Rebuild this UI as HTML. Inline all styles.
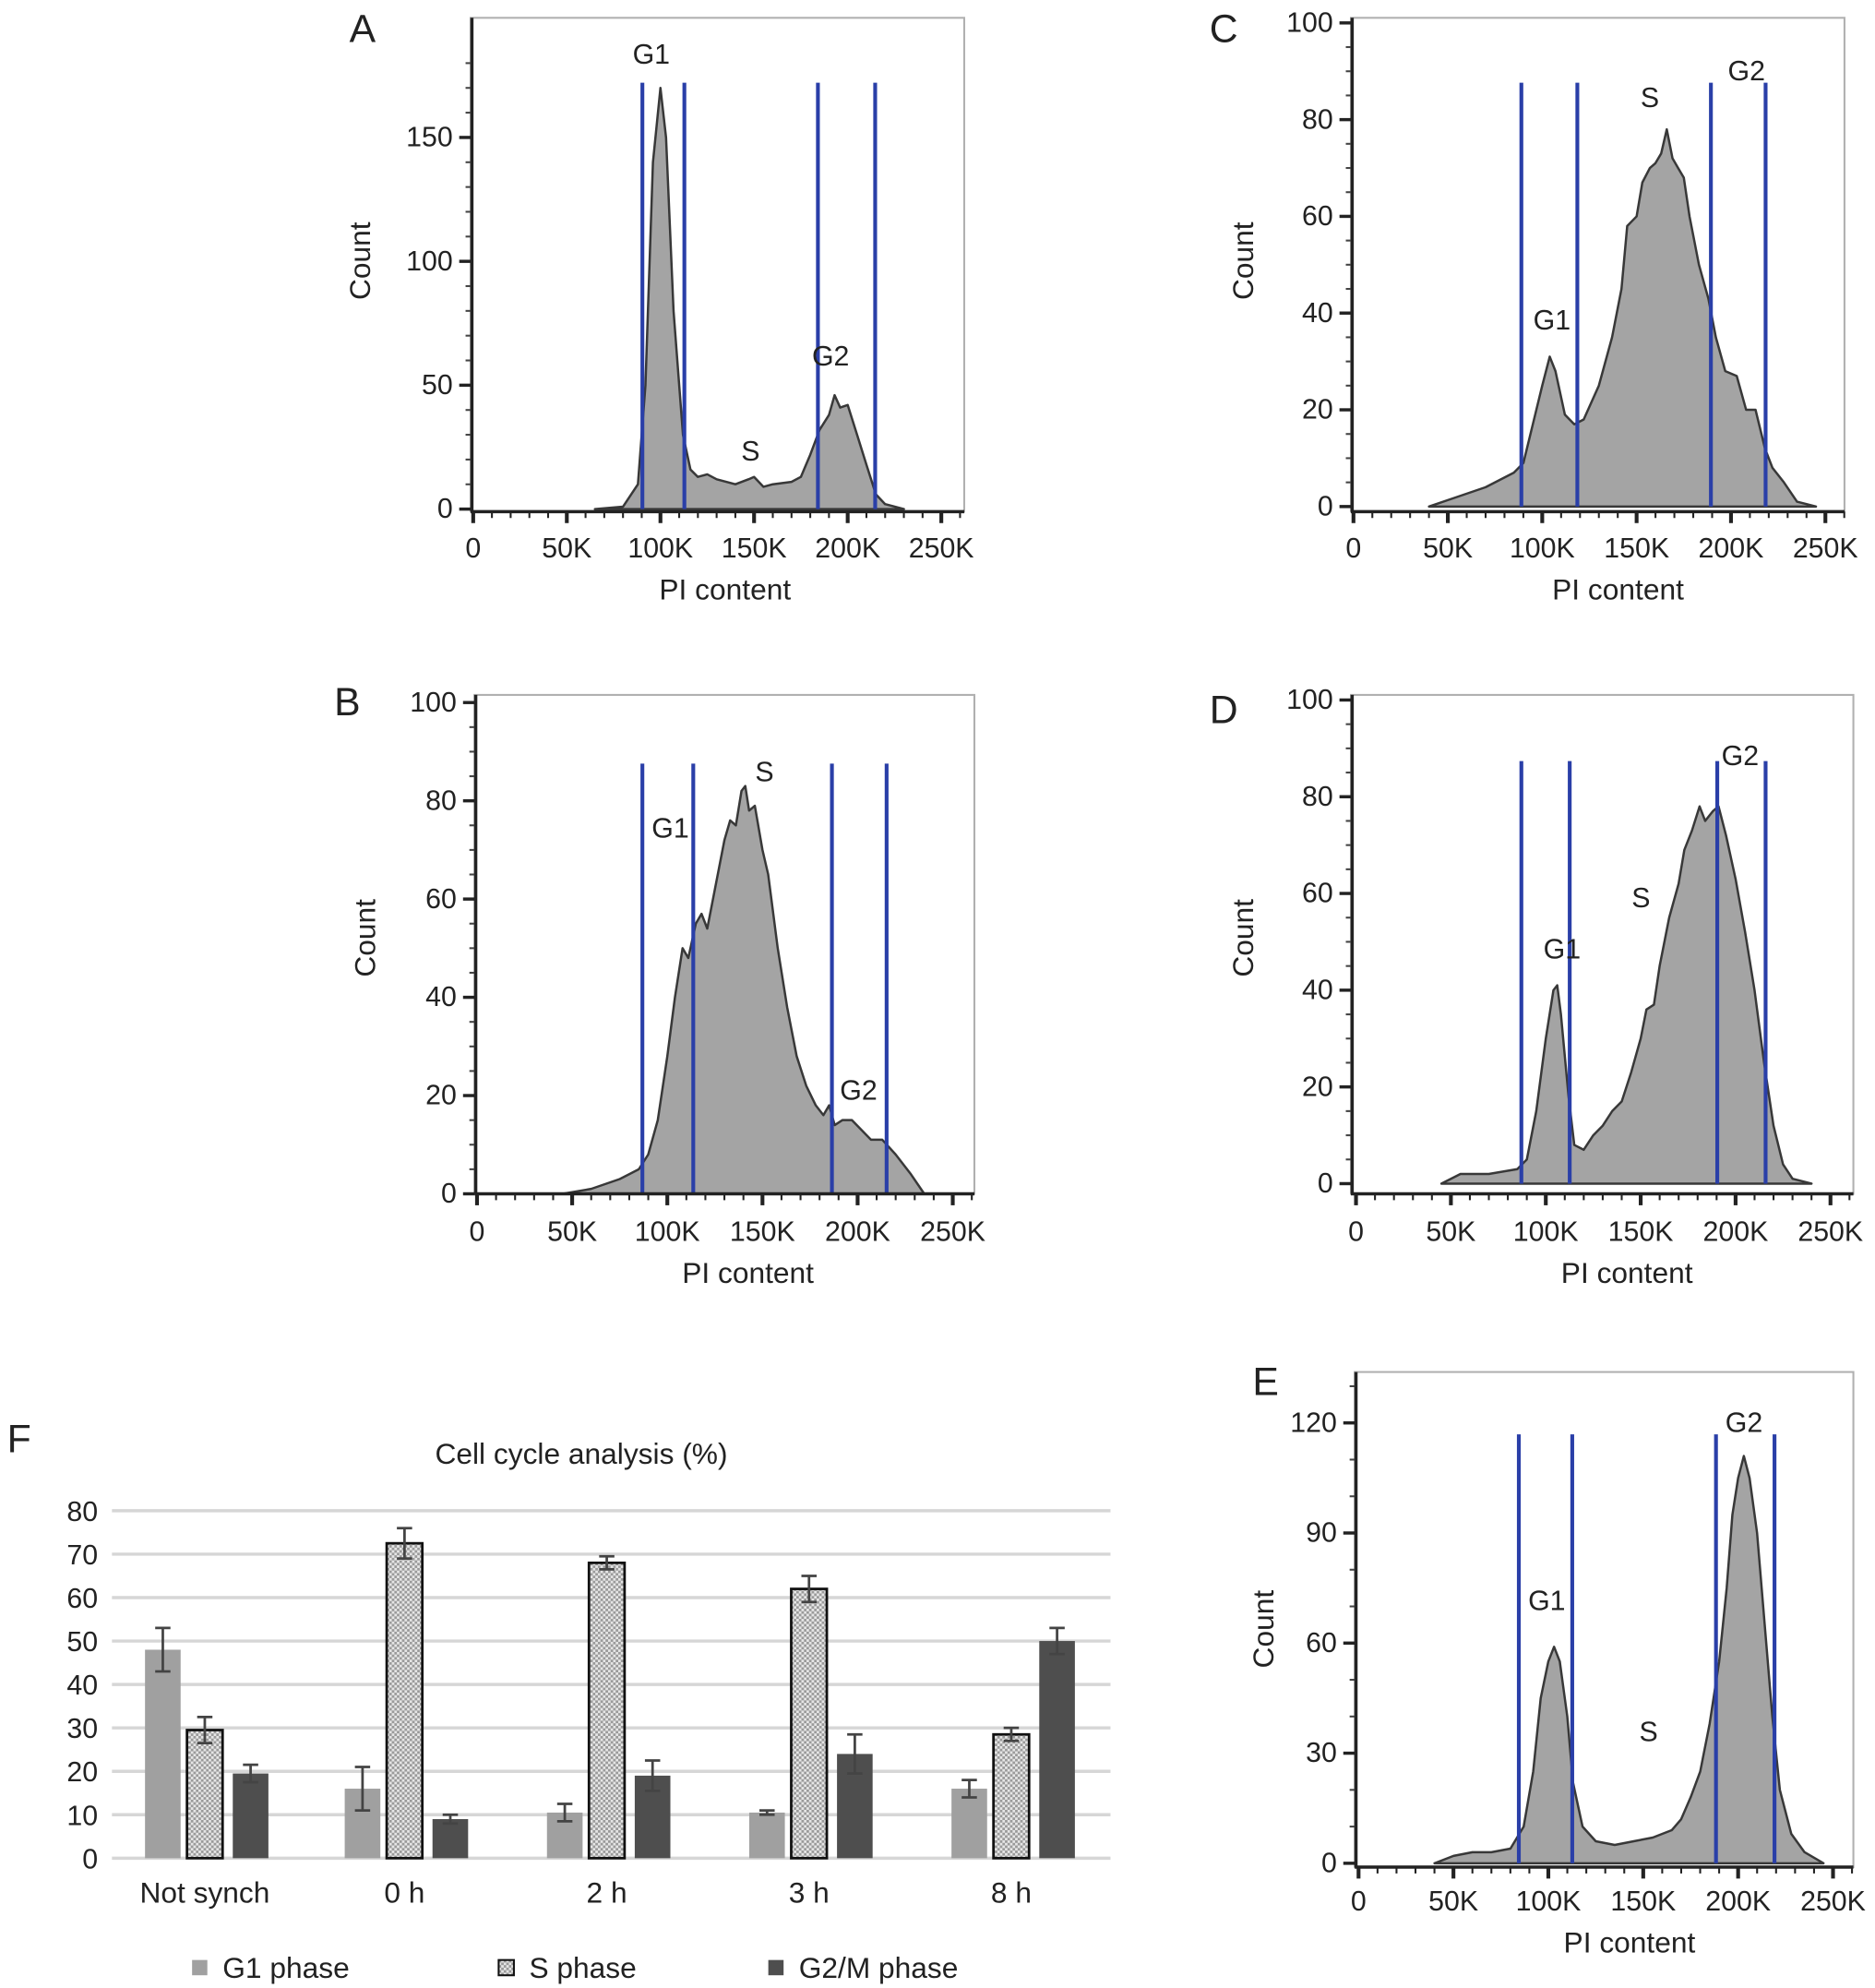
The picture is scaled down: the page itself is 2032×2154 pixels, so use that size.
<!DOCTYPE html>
<html><head><meta charset="utf-8"><style>
html,body{margin:0;padding:0;background:#fff}
svg{display:block}
text{font-family:"Liberation Sans",sans-serif;fill:#222}
</style></head><body>
<svg id="fig" width="2032" height="2154" viewBox="0 0 1474 1562" preserveAspectRatio="none" xmlns="http://www.w3.org/2000/svg">
<defs>
<pattern id="hatch" width="4" height="4" patternUnits="userSpaceOnUse">
<rect width="4" height="4" fill="#e6e6e6"/><rect width="2" height="2" fill="#9a9a9a"/><rect x="2" y="2" width="2" height="2" fill="#9a9a9a"/>
</pattern>
</defs>
</svg>
<script>
// ---- histogram data (x in K, count) ----
const histA_x=[65,80,88,92,96,100,103,107,112,116,120,125,130,140,147,150,155,160,170,175,180,185,190,193,196,200,205,210,215,220,230];
const histA_y=[0,1,10,50,140,170,150,80,30,16,13,14,12,10,12,13,9,10,11,13,22,32,38,46,41,42,30,18,6,2,0];
const histB_x=[20,45,60,75,85,90,95,100,104,108,111,115,118,121,125,130,133,136,139,141,143,146,150,153,158,163,168,173,178,182,185,188,192,197,202,207,213,220,228,235];
const histB_y=[0,0,1,3,5,8,15,28,40,50,48,55,57,54,62,72,76,75,82,83,78,79,70,65,50,38,28,22,18,16,18,14,15,15,13,11,11,8,4,0];
const histC_x=[40,55,70,85,90,95,100,104,107,112,117,122,130,137,142,145,150,153,157,160,163,166,169,172,175,178,183,188,192,197,203,208,213,218,222,228,235,245];
const histC_y=[0,2,4,7,9,17,25,31,28,19,17,18,25,35,45,58,60,67,70,71,73,78,72,70,68,60,50,43,35,28,27,20,20,12,8,5,1,0];
const histD_x=[45,50,55,70,85,90,95,100,104,106,108,112,115,120,125,130,135,140,145,150,153,157,160,165,170,173,177,181,184,188,191,195,200,205,210,215,220,225,230,240];
const histD_y=[0,1,2,2,3,5,15,30,40,41,35,18,8,7,10,12,15,17,23,30,36,37,45,55,62,69,73,78,75,77,78,72,63,52,40,25,12,4,1,0];
const histE_x=[40,50,60,70,80,87,92,96,100,103,106,110,113,118,125,135,145,155,165,170,175,180,185,190,194,197,200,203,206,210,214,218,222,228,235,245];
const histE_y=[0,2,3,3,4,10,25,45,55,59,55,40,22,10,6,5,6,7,9,12,18,25,38,55,75,95,105,111,105,90,65,40,20,8,3,0];
const xTicks=["0","50K","100K","150K","200K","250K"];
// ---- bar chart data ----
const categories=["Not synch","0 h","2 h","3 h","8 h"];
const g1Values=[48,16,10.5,10.5,16];
const g1Err=[5,5,2,0.5,2];
const sValues=[29.5,72.5,68,62,28.5];
const sErr=[3,3.5,1.5,3,1.5];
const g2Values=[19.5,9,19,24,50];
const g2Err=[2,1,3.5,4.5,3];
const barTicks=[0,10,20,30,40,50,60,70,80];

const NS="http://www.w3.org/2000/svg";
const svg=document.getElementById('fig');
function mk(tag,attrs,parent,txt){const e=document.createElementNS(NS,tag);for(const k in attrs)e.setAttribute(k,attrs[k]);if(txt!==undefined)e.textContent=txt;(parent||svg).appendChild(e);return e;}

const panels=[
 {id:'a',label:'A',lx:285,ly:33,box:[370,14,758,402],x0:372,x250:740,y0:400,ymaxv:150,ymaxpx:108,yt:[0,50,100,150],minorStep:10,xs:histA_x,ys:histA_y,gates:[505,538,643,688],gt:65,tags:[['G1',512,50],['S',590,362],['G2',653,287]],cx:283,cy:205,px:570,py:471,tly:438},
 {id:'c',label:'C',lx:962,ly:33,box:[1062,14,1450,402],x0:1064,x250:1435,y0:398,ymaxv:100,ymaxpx:18,yt:[0,20,40,60,80,100],minorStep:5,xs:histC_x,ys:histC_y,gates:[1196,1240,1345,1388],gt:65,tags:[['G1',1220,259],['S',1297,84],['G2',1373,63]],cx:977,cy:205,px:1272,py:471,tly:438},
 {id:'b',label:'B',lx:273,ly:562,box:[373,546,766,938],x0:375,x250:749,y0:938,ymaxv:100,ymaxpx:552,yt:[0,20,40,60,80,100],minorStep:5,xs:histB_x,ys:histB_y,gates:[505,545,654,697],gt:600,tags:[['G1',527,658],['S',601,614],['G2',675,864]],cx:287,cy:737,px:588,py:1008,tly:975},
 {id:'d',label:'D',lx:962,ly:568,box:[1062,546,1457,938],x0:1066,x250:1439,y0:930,ymaxv:100,ymaxpx:550,yt:[0,20,40,60,80,100],minorStep:5,xs:histD_x,ys:histD_y,gates:[1196,1234,1350,1388],gt:598,tags:[['G1',1228,753],['S',1290,713],['G2',1368,601]],cx:977,cy:737,px:1279,py:1008,tly:975},
 {id:'e',label:'E',lx:995,ly:1096,box:[1065,1078,1457,1467],x0:1068,x250:1441,y0:1464,ymaxv:120,ymaxpx:1118,yt:[0,30,60,90,120],minorStep:10,xs:histE_x,ys:histE_y,gates:[1194,1236,1349,1395],gt:1127,tags:[['G1',1216,1265],['S',1296,1368],['G2',1371,1125]],cx:993,cy:1280,px:1281,py:1534,tly:1501}
];
panels.forEach(p=>{
 const g=mk('g',{});
 
 
 const X=v=>p.x0+(p.x250-p.x0)*v/250;
 const Y=v=>p.y0+(p.ymaxpx-p.y0)*v/p.ymaxv;
 const [bx1,by1,bx2,by2]=p.box;
 const lab=mk('text',{x:p.lx,y:p.ly,'font-size':31,'text-anchor':'middle'},g,p.label);
 
 
 const box=mk('rect',{x:bx1,y:by1,width:bx2-bx1,height:by2-by1,fill:'none',stroke:'#b0b0b0','stroke-width':1.5},g);
 
 
 let d='M'+X(p.xs[0])+','+Y(0);
 for(let i=0;i<p.xs.length;i++)d+=' L'+X(p.xs[i]).toFixed(1)+','+Y(p.ys[i]).toFixed(1);
 d+=' L'+X(p.xs[p.xs.length-1])+','+Y(0)+'Z';
 const h=mk('path',{d:d,fill:'#a4a4a4',stroke:'#383838','stroke-width':1.8,'stroke-linejoin':'round'},g);
 
 
 p.gates.forEach((gx,i)=>{
  const l=mk('line',{x1:gx,y1:p.gt,x2:gx,y2:Y(0),stroke:'#2a3fa8','stroke-width':3},g);
  
  
 });
 p.tags.forEach(t=>{
  const tt=mk('text',{x:t[1],y:t[2],'font-size':22,'text-anchor':'middle'},g,t[0]);
  
  
 });
 const ya=mk('line',{x1:bx1+1,y1:by1,x2:bx1+1,y2:by2,stroke:'#222','stroke-width':2.5},g);
 
 
 const xa=mk('line',{x1:bx1,y1:by2,x2:bx2,y2:by2,stroke:'#222','stroke-width':2.5},g);
 
 
 for(let v=0;v<=p.ymaxv+p.minorStep*3;v+=p.minorStep){const yy=Y(v);if(yy<by1)break;mk('line',{x1:bx1-4,y1:yy,x2:bx1,y2:yy,stroke:'#444','stroke-width':1.5},g);}
 p.yt.forEach(v=>{
  mk('line',{x1:bx1-9,y1:Y(v),x2:bx1,y2:Y(v),stroke:'#222','stroke-width':2.5},g);
  const t=mk('text',{x:bx1-14,y:Y(v)+7,'font-size':22,'text-anchor':'end'},g,String(v));
  
  
 });
 for(let k=0;k<=260;k+=10){const xx=X(k);if(xx>bx2)break;const major=k%50===0;mk('line',{x1:xx,y1:by2,x2:xx,y2:by2+(major?9:5),stroke:'#222','stroke-width':major?3:1.5},g);}
 xTicks.forEach((s,i)=>{
  const t=mk('text',{x:X(i*50),y:p.tly,'font-size':22,'text-anchor':'middle'},g,s);
  
  
 });
 const yt=mk('text',{x:p.cx+8,y:p.cy,'font-size':23,'text-anchor':'middle',transform:'rotate(-90 '+(p.cx+8)+' '+p.cy+')'},g,'Count');
 
 
 const xt=mk('text',{x:p.px,y:p.py,'font-size':23,'text-anchor':'middle'},g,'PI content');
 
 
});

(function(){
 const g=mk('g',{});
 
 
 const Y=v=>1460-(1460-1187)*v/80;
 const centers=[161,318,477,636,795];
 const fl=mk('text',{x:15,y:1141,'font-size':31,'text-anchor':'middle'},g,'F');
 
 
 const ti=mk('text',{x:457,y:1150,'font-size':23,'text-anchor':'middle'},g,'Cell cycle analysis (%)');
 
 
 barTicks.forEach(v=>{
  const l=mk('line',{x1:88,y1:Y(v),x2:873,y2:Y(v),stroke:'#d6d6d6','stroke-width':2.5},g);
  
  
  const t=mk('text',{x:77,y:Y(v)+8,'font-size':22,'text-anchor':'end'},g,String(v));
  
  
 });
 const series=[[g1Values,g1Err,-33,'#a0a0a0','none','g1'],[sValues,sErr,0,'url(#hatch)','#111','s'],[g2Values,g2Err,36,'#4e4e4e','none','g2m']];
 categories.forEach((c,i)=>{
  series.forEach(s=>{
   const v=s[0][i],e=s[1][i],cx=centers[i]+s[2];
   const r=mk('rect',{x:cx-14,y:Y(v),width:28,height:Y(0)-Y(v),fill:s[3],stroke:s[4],'stroke-width':2},g);
   
   
   const eb=mk('path',{d:'M'+cx+','+Y(v-e)+' V'+Y(v+e)+' M'+(cx-6)+','+Y(v-e)+' H'+(cx+6)+' M'+(cx-6)+','+Y(v+e)+' H'+(cx+6),stroke:'#444','stroke-width':2,fill:'none'},g);
   
   
  });
  const t=mk('text',{x:centers[i],y:1495,'font-size':23,'text-anchor':'middle'},g,c);
  
  
 });
 const leg=[['G1 phase',157,'#a0a0a0','none','g1'],['S phase',398,'url(#hatch)','#111','s'],['G2/M phase',610,'#4e4e4e','none','g2m']];
 leg.forEach(l=>{
  const lg=mk('g',{},g);
  
  
  mk('rect',{x:l[1]-6,y:1540,width:12,height:12,fill:l[2],stroke:l[3],'stroke-width':1.5},lg);
  mk('text',{x:l[1]+18,y:1554,'font-size':23},lg,l[0]);
 });
})();
</script>
</body></html>
